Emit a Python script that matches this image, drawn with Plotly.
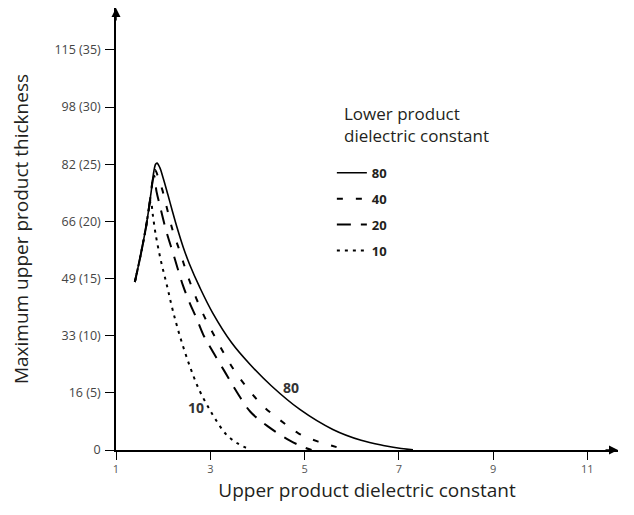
import plotly.graph_objects as go

# ---- data ----
x_ticks = [1, 3, 5, 7, 9, 11]
y_tick_vals = [0, 5, 10, 15, 20, 25, 30, 35]           # metres
y_tick_text = ["0", "16 (5)", "33 (10)", "49 (15)", "66 (20)", "82 (25)", "98 (30)", "115 (35)"]

series_names = ["80", "40", "20", "10"]

x80 = [1.40, 1.52, 1.64, 1.74, 1.80, 1.84, 1.87, 1.93, 2.00, 2.10, 2.20, 2.30, 2.43, 2.56,
       2.78, 3.05, 3.45, 3.84, 4.30, 4.90, 5.60, 6.20, 6.70, 7.05, 7.30]
y80 = [14.7, 17.0, 19.6, 22.4, 24.3, 25.0, 25.1, 24.7, 23.8, 22.35, 20.85, 19.4, 17.7, 16.25,
       14.2, 12.0, 9.4, 7.5, 5.6, 3.55, 1.8, 0.85, 0.38, 0.13, 0.02]

x40 = [1.40, 1.52, 1.64, 1.74, 1.79, 1.83, 1.90, 1.98, 2.20, 2.36, 2.50, 2.67, 2.86,
       3.06, 3.29, 3.54, 3.82, 4.12, 4.48, 4.87, 5.29, 5.60, 5.85]
y40 = [14.7, 17.0, 19.6, 22.4, 24.0, 24.5, 23.8, 22.8, 19.25, 17.3, 15.5, 13.6, 11.8,
       10.2, 8.46, 6.77, 5.25, 3.85, 2.62, 1.46, 0.73, 0.35, 0.05]

x20 = [1.40, 1.52, 1.64, 1.74, 1.78, 1.81, 1.86, 1.93, 2.06, 2.22, 2.42, 2.56, 2.71,
       2.85, 3.00, 3.30, 3.56, 3.85, 4.23, 4.69, 5.04, 5.15]
y20 = [14.7, 17.0, 19.6, 22.4, 23.6, 24.0, 22.6, 21.4, 19.25, 17.1, 14.4, 12.9, 11.5,
       10.1, 8.98, 6.9, 5.1, 3.35, 2.04, 0.82, 0.15, 0.0]

x10 = [1.40, 1.52, 1.64, 1.71, 1.74, 1.78, 1.84, 1.95, 2.08, 2.20, 2.36, 2.56, 2.76,
       2.95, 3.10, 3.34, 3.59, 3.84]
y10 = [14.7, 17.0, 19.6, 21.4, 21.8, 20.6, 18.9, 16.6, 14.4, 12.3, 9.9, 7.4, 5.3,
       3.8, 2.75, 1.35, 0.55, 0.05]

series_x = [x80, x40, x20, x10]
series_y = [y80, y40, y20, y10]
dashes = ["solid", "6px,13px", "14px,10px", "3px,5px"]
widths = [1.6, 2.0, 2.0, 2.0]

label_80 = (4.72, 5.45)
label_10 = (2.69, 3.76)
legend_title = "Lower product<br>dielectric constant"

INK = "#231f20"
FONT = "Open Sans"

fig = go.Figure()
for name, xs, ys, d, w in zip(series_names, series_x, series_y, dashes, widths):
    fig.add_trace(go.Scatter(
        x=xs, y=ys, mode="lines", name=name, legendgroup=name,
        line=dict(color="black", width=w, dash=d, shape="spline", smoothing=1.0),
    ))

fig.add_annotation(x=label_80[0], y=label_80[1], text="<b>80</b>", showarrow=False,
                   font=dict(family=FONT, size=14, color="#333"))
fig.add_annotation(x=label_10[0], y=label_10[1], text="<b>10</b>", showarrow=False,
                   font=dict(family=FONT, size=14, color="#333"))

# legend heading
fig.add_annotation(xref="paper", yref="paper", x=0.450, y=0.792, xanchor="left", yanchor="top",
                   text=legend_title, showarrow=False, align="left",
                   font=dict(family=FONT, size=17, color=INK))

# axis arrowheads
fig.add_annotation(xref="x domain", yref="y domain", x=1, y=0, ax=-14, ay=0, text="",
                   showarrow=True, arrowhead=2, arrowsize=1.2, arrowwidth=1.5, arrowcolor="black")
fig.add_annotation(xref="x domain", yref="y domain", x=0, y=1, ax=0, ay=14, text="",
                   showarrow=True, arrowhead=2, arrowsize=1.2, arrowwidth=1.5, arrowcolor="black")

fig.update_xaxes(
    range=[1, 11.65], tickvals=x_ticks, ticktext=[str(v) for v in x_ticks],
    showline=True, linecolor="black", linewidth=1.5, showgrid=False, zeroline=False,
    ticks="outside", ticklen=8, tickwidth=1.3, tickcolor="black", automargin=False,
    tickfont=dict(family=FONT, size=11, color="#555"),
    title=dict(text="Upper product dielectric constant", standoff=9,
               font=dict(family=FONT, size=19, color=INK)),
)
fig.update_yaxes(
    range=[0, 38.67], tickvals=y_tick_vals, ticktext=y_tick_text,
    showline=True, linecolor="black", linewidth=1.5, showgrid=False, zeroline=False,
    ticks="outside", ticklen=9, tickwidth=1.3, tickcolor="black", automargin=False,
    ticklabelstandoff=2,
    tickfont=dict(family=FONT, size=12.5, color="#444"),
    title=dict(text="Maximum upper product thickness", standoff=21,
               font=dict(family=FONT, size=19, color=INK)),
)

fig.update_layout(
    width=626, height=507,
    margin=dict(l=108, r=16, t=0, b=65),
    plot_bgcolor="white", paper_bgcolor="white",
    showlegend=True,
    legend=dict(
        x=0.430, y=0.661, xanchor="left", yanchor="top",
        bgcolor="rgba(0,0,0,0)", tracegroupgap=6,
        font=dict(family=FONT, size=13, color=INK, weight="bold"),
    ),
)

fig.write_html("out.html")
